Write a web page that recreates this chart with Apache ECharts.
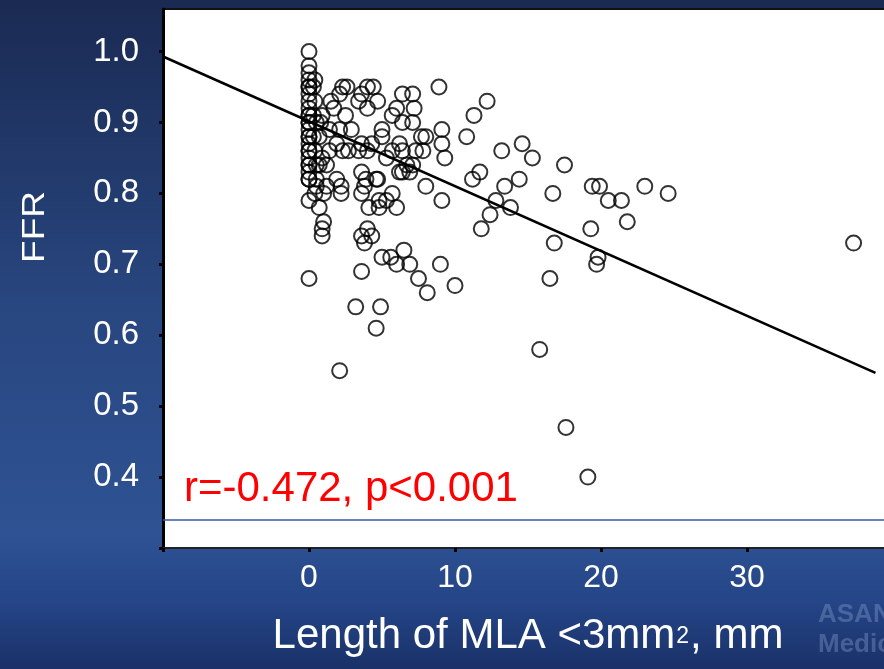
<!DOCTYPE html>
<html>
<head>
<meta charset="utf-8">
<script src="https://cdn.jsdelivr.net/npm/echarts@6/dist/echarts.min.js"></script>
<style>
  html, body { margin: 0; padding: 0; }
  #chart { width: 884px; height: 669px; }
</style>
</head>
<body>
<div id="chart"></div>
<script>
// Lesion length with MLA < 3 mm² (mm) for each vessel
const mlaLength = [
  0, 0, 0, 0, 0, 0, 0, 0, 0, 0, 0, 0, 0, 0, 0, 0, 0, 0, 0, 0, 0, 0, 0, 0, 0, 0, 0,
  0.4, 0.5, 0.5, 0.5, 0.4, 0.4, 0.5, 0.7, 0.4, 0.7, 0.3, 0.3, 0.3,
  2.3, 2.6, 2.1, 3.6, 4.0, 4.4, 4.7, 3.4, 4.0, 1.5, 6.4, 7.1, 8.9, 7.2, 6.0, 5.7, 6.4, 7.1,
  0.9, 1.7, 2.5, 2.9, 2.1, 1.4, 0.8, 9.1, 8.0, 7.7, 5.0, 5.0, 4.3, 3.6, 3.4, 4.0, 2.7, 1.9,
  1.4, 0.9, 2.3, 6.2, 6.4, 5.7, 7.3, 7.8, 9.3, 9.1, 5.3, 6.7, 7.1, 6.4, 6.9, 6.2, 8.0, 3.6,
  3.9, 4.6, 3.6, 1.9, 2.2, 1.2, 1.2,
  0.7, 1.0, 1.0, 0.9, 0.9, 2.2, 3.8, 4.7, 4.1, 4.8, 4.8, 5.3, 5.7, 6.0, 9.1, 4.0, 3.6, 4.3,
  3.8, 5.0, 5.6, 6.5, 6.0, 6.9, 7.5, 9.0, 8.1, 3.6, 3.2, 4.9, 4.6, 2.1,
  12.2, 11.3, 10.8, 13.2, 14.6, 15.3, 17.5, 11.7, 11.2, 13.4, 14.4, 12.8, 13.8, 12.4, 11.8,
  16.7, 19.4, 19.9, 20.5, 21.4, 23.0, 24.6, 21.8, 19.3, 16.8, 19.8, 19.7, 16.5, 37.3, 10.0,
  15.8, 17.6, 19.1
];

// Fractional flow reserve, same order as mlaLength
const ffr = [
  1.00, 0.98, 0.97, 0.96, 0.95, 0.95, 0.94, 0.93, 0.92, 0.91, 0.91, 0.90, 0.90, 0.89, 0.88,
  0.88, 0.87, 0.86, 0.86, 0.85, 0.84, 0.84, 0.83, 0.82, 0.82, 0.79, 0.68,
  0.96, 0.81, 0.84, 0.82, 0.80, 0.93, 0.90, 0.88, 0.86, 0.84, 0.95, 0.91, 0.88,
  0.95, 0.95, 0.94, 0.94, 0.95, 0.95, 0.93, 0.93, 0.92, 0.93, 0.94, 0.94, 0.95, 0.92, 0.92,
  0.91, 0.90, 0.90,
  0.91, 0.92, 0.91, 0.89, 0.89, 0.89, 0.90, 0.89, 0.88, 0.88, 0.89, 0.88, 0.87, 0.87, 0.86,
  0.86, 0.86, 0.87,
  0.86, 0.85, 0.86, 0.87, 0.86, 0.86, 0.86, 0.86, 0.85, 0.87, 0.85, 0.84, 0.84, 0.83, 0.83,
  0.83, 0.81, 0.83,
  0.82, 0.82, 0.80, 0.82, 0.81, 0.81, 0.84,
  0.78, 0.80, 0.76, 0.75, 0.74, 0.80, 0.81, 0.82, 0.78, 0.78, 0.79, 0.79, 0.80, 0.78, 0.79,
  0.75, 0.74, 0.74,
  0.73, 0.71, 0.71, 0.72, 0.70, 0.70, 0.68, 0.70, 0.66, 0.69, 0.64, 0.64, 0.61, 0.55,
  0.93, 0.91, 0.88, 0.86, 0.87, 0.85, 0.84, 0.83, 0.82, 0.81, 0.82, 0.79, 0.78, 0.77, 0.75,
  0.80, 0.81, 0.81, 0.79, 0.79, 0.81, 0.80, 0.76, 0.75, 0.73, 0.71, 0.70, 0.68, 0.73, 0.67,
  0.58, 0.47, 0.40
];

// Fitted regression line end points
const fitX = [-10, 38.8];
const fitY = [0.993, 0.547];

// Axis tick positions and labelled values
const xTicks = [-10, 0, 10, 20, 30, 40];
const xLabels = [0, 10, 20, 30];
const yTicks = [0.3, 0.4, 0.5, 0.6, 0.7, 0.8, 0.9, 1.0];
const yLabels = [0.4, 0.5, 0.6, 0.7, 0.8, 0.9, 1.0];

const statText = 'r=-0.472, p<0.001';
const xTitle = 'Length of MLA <3mm{sup|2}, mm';
const yTitle = 'FFR';
const refLine = 0.34;

const points = mlaLength.map((x, i) => [x, ffr[i]]);
const fitLine = fitX.map((x, i) => [x, fitY[i]]);

const FONT = '"Liberation Sans", Arial, sans-serif';

const chart = echarts.init(document.getElementById('chart'), null, { renderer: 'canvas' });

chart.setOption({
  animation: false,
  backgroundColor: new echarts.graphic.LinearGradient(0, 0, 0, 1, [
    { offset: 0, color: '#1a2a52' },
    { offset: 0.45, color: '#28467f' },
    { offset: 0.8, color: '#2e5293' },
    { offset: 0.9, color: '#244587' },
    { offset: 1, color: '#1a3168' }
  ]),
  grid: {
    left: 163, top: 9, right: -9, bottom: 121,
    outerBoundsMode: 'none',
    containLabel: false,
    show: true,
    backgroundColor: '#ffffff',
    borderColor: '#111111',
    borderWidth: 2
  },
  xAxis: {
    type: 'value',
    min: -10, max: 40, interval: 10,
    splitLine: { show: false },
    axisLine: { show: true, onZero: false, lineStyle: { color: '#222', width: 2 } },
    axisTick: { show: true, length: 4, customValues: xTicks, lineStyle: { color: '#000', width: 3 } },
    axisLabel: {
      customValues: xLabels,
      margin: 14,
      color: '#ffffff',
      fontFamily: FONT,
      fontSize: 32
    },
    name: xTitle,
    nameLocation: 'middle',
    nameGap: 65,
    nameTextStyle: {
      color: '#ffffff',
      fontFamily: FONT,
      fontSize: 42,
      lineHeight: 46,
      rich: {
        sup: { fontSize: 23, lineHeight: 23, color: '#ffffff', fontFamily: FONT, verticalAlign: 'top', padding: [12, 1, 0, 1] }
      }
    }
  },
  yAxis: {
    type: 'value',
    min: 0.3, max: 1.06, interval: 0.1,
    splitLine: { show: false },
    axisLine: { show: true, onZero: false, lineStyle: { color: '#000', width: 3 } },
    axisTick: { show: true, length: 4, customValues: yTicks, lineStyle: { color: '#000', width: 3 } },
    axisLabel: {
      customValues: yLabels,
      margin: 24,
      color: '#ffffff',
      fontFamily: FONT,
      fontSize: 33,
      formatter: v => v.toFixed(1)
    }
  },
  graphic: [
    {
      type: 'text',
      x: 35, y: 227,
      rotation: Math.PI / 2,
      scaleY: 0.86,
      style: {
        text: yTitle,
        fill: '#ffffff',
        font: '37px ' + FONT,
        align: 'center',
        verticalAlign: 'middle'
      }
    },
    {
      type: 'text',
      left: 184, top: 468,
      z: 10,
      style: {
        text: statText,
        fill: '#ff0000',
        font: '42px ' + FONT
      }
    },
    {
      type: 'text',
      left: 818, top: 602,
      style: { text: 'ASAN', fill: 'rgba(150,170,210,0.35)', font: 'bold 26px ' + FONT }
    },
    {
      type: 'text',
      left: 818, top: 632,
      style: { text: 'Medical', fill: 'rgba(150,170,210,0.35)', font: 'bold 26px ' + FONT }
    }
  ],
  series: [
    {
      type: 'scatter',
      data: points,
      symbol: 'circle',
      symbolSize: 15,
      itemStyle: { color: 'rgba(0,0,0,0)', borderColor: '#000', borderWidth: 2 },
      emphasis: { disabled: true },
      z: 3
    },
    {
      type: 'line',
      data: fitLine,
      showSymbol: false,
      lineStyle: { color: '#000', width: 2.5 },
      emphasis: { disabled: true },
      z: 4,
      markLine: {
        silent: true,
        symbol: ['none', 'none'],
        label: { show: false },
        lineStyle: { color: '#3559a8', width: 1.5, type: 'solid', opacity: 1 },
        emphasis: { disabled: true },
        data: [{ yAxis: refLine }]
      }
    }
  ]
});
</script>
</body>
</html>
